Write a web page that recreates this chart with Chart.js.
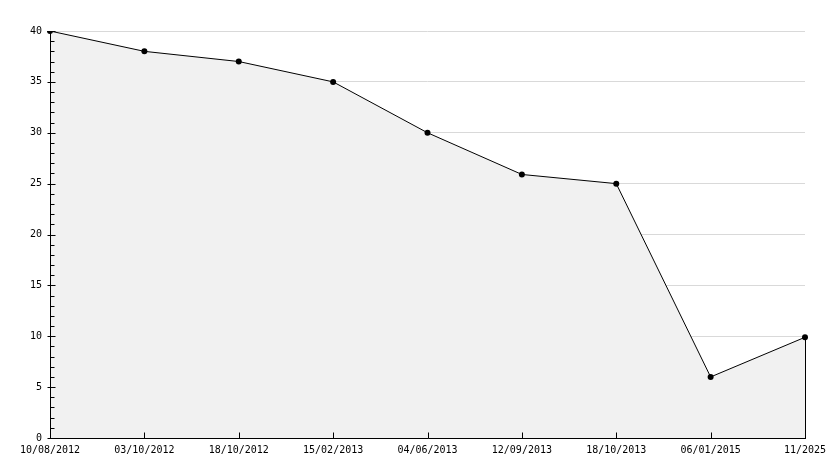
<!DOCTYPE html>
<html lang="en">
<head>
    <meta charset="UTF-8">
    <title>Chart</title>
    <script src="https://cdn.jsdelivr.net/npm/chart.js"></script>
    <style>
        html, body { margin: 0; padding: 0; background: #ffffff; }
        #wrap { width: 834px; height: 468px; }
    </style>
</head>
<body>
    <div id="wrap"><canvas id="lineChart" width="834" height="468"></canvas></div>
    <script>
        const dates = ["10/08/2012", "03/10/2012", "18/10/2012", "15/02/2013", "04/06/2013",
                       "12/09/2013", "18/10/2013", "06/01/2015", "11/2025"];
        const values = [40, 38, 37, 35, 30, 25.9, 25, 6, 9.9];
        const yMin = 0, yMax = 40, yStep = 5;

        const FONT = { family: "'DejaVu Sans Mono', monospace", size: 10 };

        // extra marks: tick marks, axis lines, area edge on the right
        const axisMarks = {
            id: "axisMarks",
            afterDatasetsDraw(chart) {
                const ctx = chart.ctx;
                const x = chart.scales.x, y = chart.scales.y;
                const left = Math.round(x.left) + 0.5;
                const bottom = Math.round(y.bottom) + 0.5;
                ctx.save();
                ctx.strokeStyle = "#000";
                ctx.lineWidth = 1;
                ctx.beginPath();
                // axes
                ctx.moveTo(left, Math.round(y.top));
                ctx.lineTo(left, bottom);
                ctx.lineTo(Math.round(x.right) + 1, bottom);
                // y ticks, major every 5, minor every 1
                for (let v = yMin; v <= yMax; v++) {
                    const py = Math.round(y.getPixelForValue(v)) + 0.5;
                    if (v % yStep === 0) {
                        ctx.moveTo(left - 3, py);
                        ctx.lineTo(left + 5, py);
                    } else {
                        ctx.moveTo(left, py);
                        ctx.lineTo(left + 4, py);
                    }
                }
                // x ticks
                for (let i = 1; i < dates.length; i++) {
                    const px = Math.round(x.getPixelForValue(i)) + 0.5;
                    ctx.moveTo(px, bottom);
                    ctx.lineTo(px, bottom - 6);
                }
                // right edge of the area
                const last = dates.length - 1;
                const lx = Math.round(x.getPixelForValue(last)) + 0.5;
                ctx.moveTo(lx, y.getPixelForValue(values[last]));
                ctx.lineTo(lx, bottom);
                ctx.stroke();
                ctx.restore();
            }
        };

        new Chart(document.getElementById("lineChart"), {
            type: "line",
            data: {
                labels: dates,
                datasets: [{
                    data: values,
                    borderColor: "#000000",
                    borderWidth: 1,
                    backgroundColor: "#f1f1f1",
                    fill: "origin",
                    tension: 0,
                    pointRadius: 3,
                    pointBackgroundColor: "#000000",
                    pointBorderWidth: 0,
                    pointHoverRadius: 3
                }]
            },
            options: {
                responsive: false,
                animation: false,
                events: [],
                layout: { padding: { top: 31, right: 29, left: 0, bottom: 0 } },
                plugins: {
                    legend: { display: false },
                    tooltip: { enabled: false }
                },
                scales: {
                    x: {
                        offset: false,
                        afterFit(scale) { scale.height = 30; },
                        grid: { display: false, drawTicks: false },
                        border: { display: false },
                        ticks: {
                            color: "#000",
                            font: FONT,
                            padding: 6,
                            maxRotation: 0,
                            autoSkip: false
                        }
                    },
                    y: {
                        min: yMin,
                        max: yMax,
                        afterFit(scale) { scale.width = 50; },
                        grid: {
                            drawTicks: false,
                            color: (c) => c.tick && c.tick.value === 0 ? "rgba(0,0,0,0)" : "#d9d9d9",
                            lineWidth: 1
                        },
                        border: { display: false },
                        ticks: {
                            stepSize: yStep,
                            color: "#000",
                            font: FONT,
                            padding: 8
                        }
                    }
                }
            },
            plugins: [axisMarks]
        });
    </script>
</body>
</html>
